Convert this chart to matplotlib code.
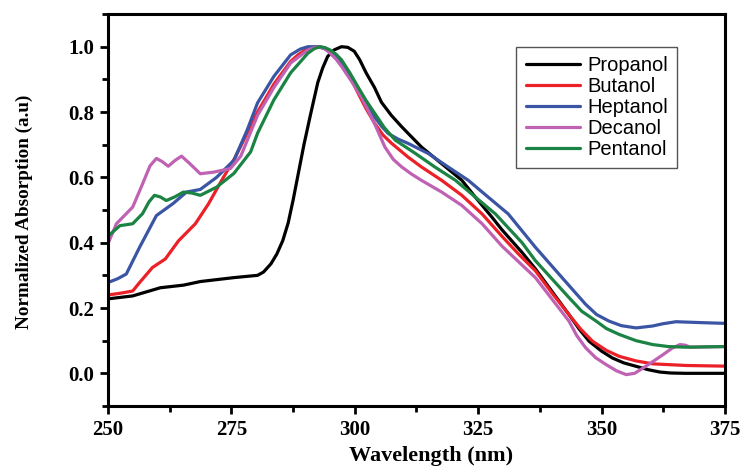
"""UV-vis normalized absorption spectra of the alcohol series."""
import matplotlib
matplotlib.use("Agg")
import matplotlib.pyplot as plt
from matplotlib.ticker import MultipleLocator, FormatStrFormatter

# wavelength (nm) / normalized absorption
propanol_x = [250, 255, 260.6, 265.3, 268.7, 275.5, 280.3, 281.5, 283, 284.2, 285.4,
              286.5, 287.5, 288.6, 289.7, 291, 292.5, 293.5, 294.5, 295.8, 297.3,
              298.6, 299.9, 301, 302.3, 304, 305.4, 307.4, 309.5, 313.5, 317.6,
              321.7, 324.4, 327.8, 329.8, 333.9, 336.6, 340, 343.4, 345.5, 347.5,
              350, 352.2, 354.5, 357, 359.5, 361.8, 364, 367, 375]
propanol_y = [0.228, 0.237, 0.262, 0.27, 0.281, 0.293, 0.30, 0.31, 0.335, 0.365, 0.406,
              0.46, 0.53, 0.615, 0.70, 0.79, 0.89, 0.935, 0.97, 0.99, 1.0,
              0.998, 0.986, 0.96, 0.92, 0.875, 0.83, 0.79, 0.755, 0.693, 0.642,
              0.591, 0.54, 0.478, 0.44, 0.37, 0.32, 0.25, 0.18, 0.135, 0.098,
              0.068, 0.047, 0.032, 0.0215, 0.011, 0.004, 0.001, 0.0, 0.0]

butanol_x = [250, 252.4, 255, 256.4, 259, 261.6, 264.3, 267.7, 270.4, 273, 275.8,
             278.5, 280.3, 283.6, 287, 288.5, 290, 291.2, 292.5, 293.8, 295, 296.2,
             297.3, 299, 300.6, 302.3, 304, 305.7, 307.4, 310.8, 313.5, 317.6,
             321.7, 325.8, 329.8, 333.2, 336.6, 340, 343.4, 345.8, 348.2, 351,
             353.6, 357, 360.4, 367.2, 375]
butanol_y = [0.24, 0.245, 0.252, 0.278, 0.324, 0.35, 0.406, 0.458, 0.52, 0.59, 0.662,
             0.745, 0.80, 0.885, 0.955, 0.975, 0.99, 0.997, 1.0, 0.995, 0.985, 0.97,
             0.95, 0.91, 0.86, 0.81, 0.766, 0.73, 0.705, 0.662, 0.632, 0.591,
             0.545, 0.488, 0.42, 0.365, 0.314, 0.245, 0.18, 0.135, 0.098, 0.07,
             0.052, 0.038, 0.029, 0.024, 0.022]

heptanol_x = [250, 252, 253.7, 256.4, 259.8, 263.2, 265.9, 268.7, 272, 275.5, 278.2,
              280.3, 283.6, 287, 289, 290.5, 292.5, 293.8, 295, 296.2, 297.3, 299,
              300.6, 302.3, 304, 305.5, 306.8, 308.8, 310.8, 314.9, 318.9, 323,
              327, 331.1, 336.6, 342, 346.8, 349, 351.5, 354, 357, 360.4, 362.5,
              365.1, 370.6, 375]
heptanol_y = [0.278, 0.29, 0.304, 0.386, 0.483, 0.52, 0.555, 0.563, 0.60, 0.652, 0.745,
              0.828, 0.909, 0.975, 0.993, 1.0, 1.0, 0.995, 0.985, 0.97, 0.95, 0.915,
              0.87, 0.825, 0.785, 0.755, 0.734, 0.717, 0.704, 0.673, 0.632, 0.591,
              0.54, 0.488, 0.386, 0.293, 0.211, 0.18, 0.16, 0.146, 0.139, 0.145, 0.152,
              0.158, 0.155, 0.153]

decanol_x = [250, 251.7, 255, 257, 258.5, 259.8, 261, 262.2, 263.6, 264.9, 266.5,
             268.7, 271.4, 274.8, 276.9, 280.3, 283.6, 287, 290.5, 291.8, 293, 294,
             295, 296.2, 297.3, 299.3, 301.3, 302.7, 304, 306.1, 307.8, 309.5,
             311.5, 313.5, 317.6, 321.7, 325.8, 329.8, 336.6, 343.4, 345, 346.8,
             348.8, 350.9, 353, 355, 356.7, 358.4, 360.5, 362.5, 364.3, 365.9, 367,
             368, 375]
decanol_y = [0.397, 0.458, 0.509, 0.58, 0.635, 0.658, 0.648, 0.634, 0.652, 0.665, 0.643,
             0.611, 0.616, 0.627, 0.665, 0.79, 0.875, 0.95, 0.99, 0.997, 1.0, 0.993,
             0.98, 0.962, 0.94, 0.895, 0.847, 0.805, 0.765, 0.693, 0.655, 0.632,
             0.61, 0.591, 0.555, 0.514, 0.458, 0.39, 0.293, 0.16, 0.115, 0.078,
             0.048, 0.027, 0.008, -0.004, 0.0, 0.016, 0.037, 0.0575, 0.077, 0.088, 0.086,
             0.08, 0.082]

pentanol_x = [250, 252.4, 255, 257, 258.3, 259.4, 260.6, 261.8, 263.5, 265.3, 267,
              268.7, 272, 275.5, 278.9, 280.3, 283.6, 287, 290.5, 291.8, 293, 294,
              295, 296.2, 297.3, 299, 300.6, 302.3, 304, 306, 308.2, 312.3, 316.2,
              320.4, 324.4, 328.5, 333.9, 336.6, 343.4, 346, 348.9, 351, 353.6,
              357, 360.4, 363.5, 367.2, 375]
pentanol_y = [0.42, 0.452, 0.458, 0.489, 0.525, 0.545, 0.54, 0.529, 0.54, 0.555, 0.552,
              0.545, 0.57, 0.612, 0.678, 0.735, 0.837, 0.92, 0.98, 0.994, 1.0, 0.997,
              0.99, 0.977, 0.96, 0.92, 0.878, 0.835, 0.797, 0.752, 0.714, 0.673, 0.632,
              0.591, 0.54, 0.488, 0.40, 0.345, 0.232, 0.19, 0.16, 0.137, 0.119,
              0.1, 0.088, 0.082, 0.08, 0.082]

SERIES = [
    ("Propanol", propanol_x, propanol_y, "#000000"),
    ("Butanol", butanol_x, butanol_y, "#ec2027"),
    ("Heptanol", heptanol_x, heptanol_y, "#3b55a5"),
    ("Decanol", decanol_x, decanol_y, "#c062b4"),
    ("Pentanol", pentanol_x, pentanol_y, "#1b8343"),
]

SERIF_BOLD = {"family": "Liberation Serif", "weight": "bold"}

fig = plt.figure(figsize=(7.45, 4.68), dpi=100)
ax = fig.add_axes([0.145, 0.1325, 0.828, 0.8375])

for label, xs, ys, color in SERIES:
    ax.plot(xs, ys, color=color, lw=2.3, label=label,
            solid_joinstyle="round", solid_capstyle="round")

ax.set_xlim(250, 375)
ax.set_ylim(-0.1, 1.1)
ax.xaxis.set_major_locator(MultipleLocator(25))
ax.xaxis.set_minor_locator(MultipleLocator(12.5))
ax.yaxis.set_minor_locator(MultipleLocator(0.1))
ax.set_yticks([0.0, 0.2, 0.4, 0.6, 0.8, 1.0])
ax.yaxis.set_major_formatter(FormatStrFormatter("%.1f"))

for sp in ax.spines.values():
    sp.set_linewidth(2.2)
ax.tick_params(which="major", direction="out", length=6, width=2, pad=4)
ax.tick_params(which="minor", direction="out", length=4, width=2)
for lab in ax.get_xticklabels() + ax.get_yticklabels():
    lab.set_fontfamily("Liberation Serif")
    lab.set_fontweight("bold")
    lab.set_fontsize(15)

ax.set_xlabel("Wavelength (nm)", fontsize=16, **SERIF_BOLD)
ax.xaxis.set_label_coords(0.5235, -0.103)
ax.set_ylabel("Normalized Absorption (a.u)", fontsize=13.8, **SERIF_BOLD)
ax.yaxis.set_label_coords(-0.122, 0.495)

leg = ax.legend(loc="upper right", bbox_to_anchor=(0.922, 0.916), borderaxespad=0,
                prop={"family": "Liberation Sans", "size": 14.5}, handlelength=2.7,
                labelspacing=0.1, fancybox=False, framealpha=1, borderpad=0.45,
                handletextpad=0.35)
leg.get_frame().set_edgecolor("#555555")
leg.get_frame().set_linewidth(1.0)

fig.savefig("out.png", dpi=100)
